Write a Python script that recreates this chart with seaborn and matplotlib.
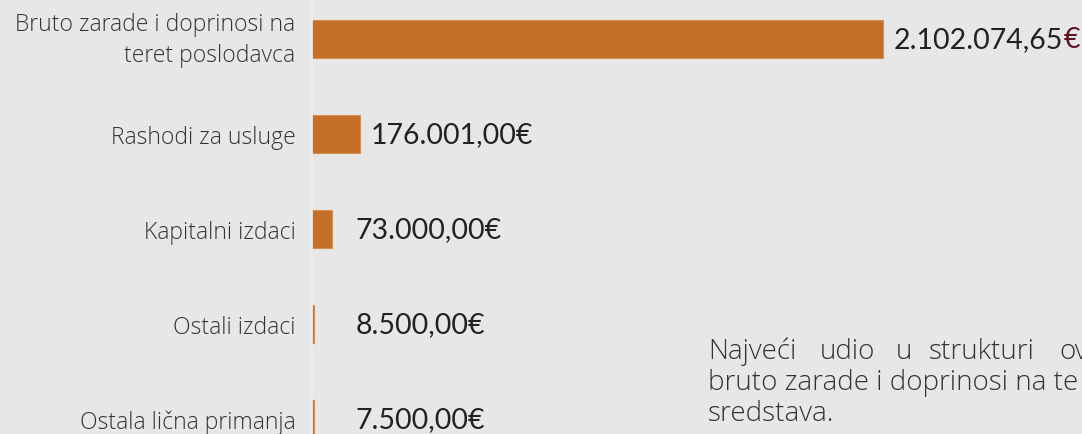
import matplotlib
matplotlib.use("Agg")
import matplotlib.pyplot as plt
import matplotlib.transforms as mtransforms
import seaborn as sns

# data
categories = ["Bruto zarade i doprinosi na\nteret poslodavca", "Rashodi za usluge",
              "Kapitalni izdaci", "Ostali izdaci", "Ostala lična primanja"]
values = [2102074.65, 176001.00, 73000.00, 8500.00, 7500.00]
value_labels = ["2.102.074,65", "176.001,00€", "73.000,00€", "8.500,00€", "7.500,00€"]
note_words = ["Najveći", "udio", "u", "strukturi", "ov"]
note_lines = ["bruto zarade i doprinosi na te", "sredstava."]

bg = "#e7e7e7"
bar_col = "#c4702b"

sns.set_style("white")
plt.rcParams["font.family"] = ["Open Sans", "DejaVu Sans"]

fig = plt.figure(figsize=(10.82, 4.35), dpi=100, facecolor=bg)
ax = fig.add_axes([0.2884, 0.0, 0.665, 1.0])
ax.set_facecolor(bg)

sns.barplot(x=values, y=categories, orient="h", color=bar_col, width=0.39,
            edgecolor="#d68f52", linewidth=0.8, saturation=1, ax=ax)

ax.set_xlim(0, 2.65e6)
ax.set_ylim(4.158, -0.421)
ax.set_xticks([])
ax.set_xlabel("")
ax.set_ylabel("")
for s in ["top", "right", "bottom"]:
    ax.spines[s].set_visible(False)
ax.spines["left"].set_color("#eeeeee")
ax.spines["left"].set_linewidth(1.2)
ax.tick_params(axis="y", length=0, pad=12)
for t in ax.get_yticklabels():
    t.set_fontsize(16.5)
    t.set_fontweight("light")
    t.set_color("#333333")
    t.set_linespacing(1.35)
# two-line label sits a bit higher than its bar
first = ax.get_yticklabels()[0]
first.set_transform(first.get_transform() +
                    mtransforms.ScaledTranslation(0, 4 / 72, fig.dpi_scale_trans))

# value labels
min_x = 118000
for i, (v, lab) in enumerate(zip(values, value_labels)):
    t = ax.annotate(lab, xy=(max(v, min_x), i), xytext=(8, 0), textcoords="offset points",
                    va="center", ha="left", fontsize=20.5, family="Lato", color="#222222")
    if i == 0:
        ax.annotate("€", xy=(1, 0), xycoords=t, va="bottom", ha="left",
                    fontsize=20.5, family="Lato", color="#5c1420")

# note text, bottom right (cut off by the figure edge)
word_x = [708, 820, 896, 929, 1059]
for w, x in zip(note_words, word_x):
    fig.text(x / 1082, 1 - 359 / 435, w, fontsize=20, fontweight="light",
             color="#333333", va="baseline")
for k, line in enumerate(note_lines):
    fig.text(708 / 1082, 1 - (390 + 31 * k) / 435, line, fontsize=20,
             fontweight="light", color="#333333", va="baseline")

fig.savefig("out.png", dpi=100, facecolor=bg)
